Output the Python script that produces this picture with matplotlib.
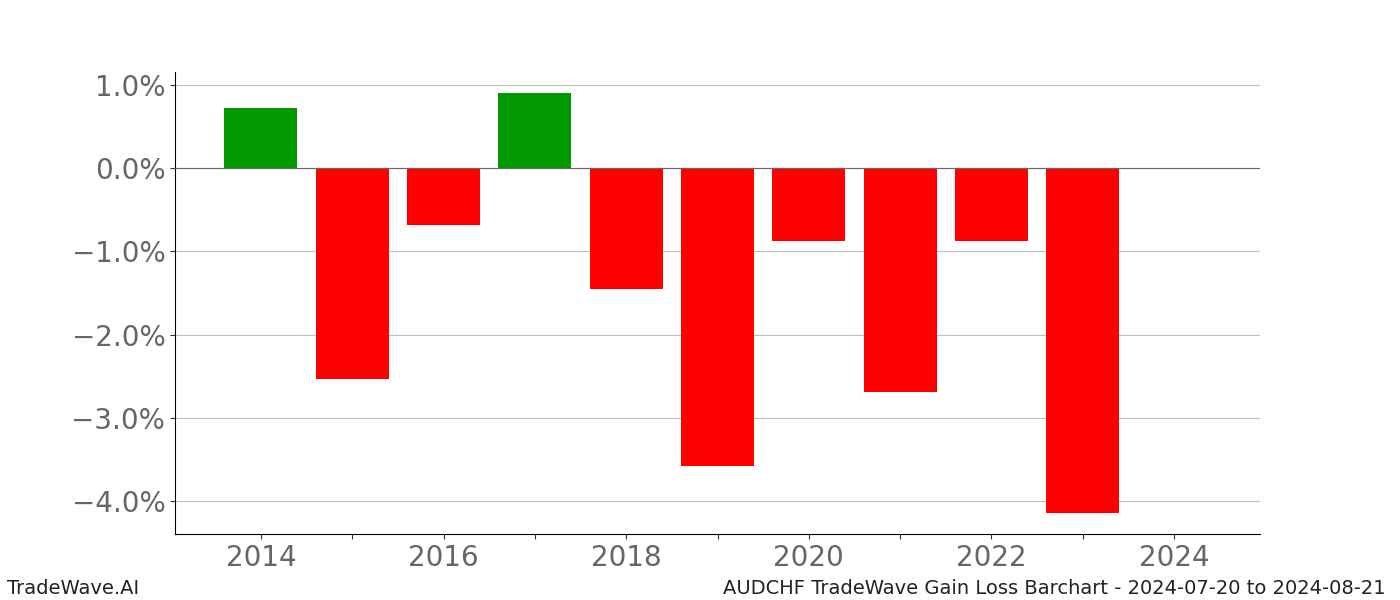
import numpy as np
import matplotlib
matplotlib.use('Agg')
import matplotlib.pyplot as plt
from matplotlib.ticker import FuncFormatter

# data (percent gain/loss per year)
years = [2014, 2015, 2016, 2017, 2018, 2019, 2020, 2021, 2022, 2023]
gains = [0.72, -2.53, -0.68, 0.90, -1.45, -3.57, -0.88, -2.69, -0.88, -4.14]

colors = ['#009900' if g > 0 else '#ff0000' for g in gains]

fig = plt.figure(figsize=(14, 6), dpi=100)
ax = fig.add_axes([0.125, 0.11, 0.775, 0.77])

ax.grid(axis='y', color='#c0c0c0', linewidth=0.8)
ax.set_axisbelow(True)
ax.bar(years, gains, width=0.8, color=colors, zorder=2)
ax.axhline(0, color='#666666', linewidth=0.8, zorder=3)

ax.set_xlim(2013.06, 2024.94)
ax.set_ylim(-4.39, 1.152)
ax.set_xticks(np.arange(2014, 2025, 1))
ax.set_xticklabels([str(y) if y % 2 == 0 else '' for y in range(2014, 2025)])
ax.set_yticks([1, 0, -1, -2, -3, -4])
ax.yaxis.set_major_formatter(FuncFormatter(lambda v, p: f'{v:.1f}%'.replace('-', '\u2212')))
ax.tick_params(labelsize=20, labelcolor='#666666', color='#333333')

ax.spines['top'].set_visible(False)
ax.spines['right'].set_visible(False)

fig.text(0.005, 0.01, 'TradeWave.AI', fontsize=14, color='#222222', ha='left')
fig.text(0.99, 0.01, 'AUDCHF TradeWave Gain Loss Barchart - 2024-07-20 to 2024-08-21',
         fontsize=14, color='#222222', ha='right')

plt.savefig('out.png', dpi=100)
plt.close()
